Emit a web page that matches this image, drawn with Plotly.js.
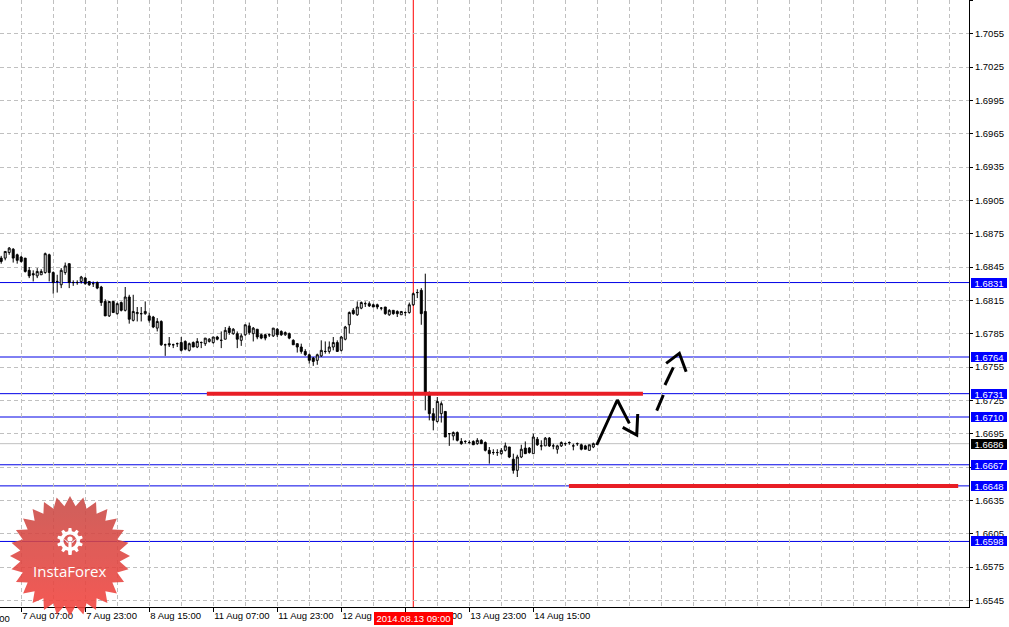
<!DOCTYPE html>
<html><head><meta charset="utf-8">
<script src="https://cdn.plot.ly/plotly-3.0.1.min.js"></script>
<style>html,body{margin:0;padding:0;background:#fff;overflow:hidden}#chart{width:1009px;height:627px}</style>
</head><body><div id="chart"></div>
<script>
// ---- data (GBPUSD H1, bar index 0 = 7 Aug 07:00) ----
const firstBar = -5;
const opens = [1.6853,1.6853,1.6858,1.6861,1.6856,1.6854,1.6853,1.6842,1.6839,1.6837,1.6838,1.6840,1.6856,1.6840,1.6832,1.6829,1.6840,1.6848,1.6831,1.6831,
1.6832,1.6835,1.6832,1.6830,1.6831,1.6827,1.6814,1.6801,1.6814,1.6803,1.6813,1.6806,1.6818,1.6797,1.6803,1.6803,1.6803,1.6801,1.6800,1.6790,
1.6796,1.6775,1.6776,1.6775,1.6776,1.6777,1.6778,1.6770,1.6777,1.6773,1.6777,1.6776,1.6778,1.6777,1.6782,1.6779,1.6780,1.6790,1.6785,1.6785,
1.6779,1.6784,1.6792,1.6785,1.6789,1.6784,1.6784,1.6784,1.6783,1.6789,1.6787,1.6784,1.6785,1.6779,1.6776,1.6773,1.6769,1.6766,1.6763,1.6761,
1.6765,1.6769,1.6769,1.6773,1.6777,1.6770,1.6780,1.6793,1.6806,1.6802,1.6808,1.6812,1.6812,1.6811,1.6811,1.6808,1.6809,1.6802,1.6806,1.6805,
1.6802,1.6804,1.6804,1.6811,1.6822,1.6824,1.6805,1.6732,1.6713,1.6706,1.6713,1.6715,1.6695,1.6693,1.6696,1.6688,1.6688,1.6687,1.6688,1.6686,
1.6689,1.6687,1.6680,1.6678,1.6678,1.6677,1.6680,1.6683,1.6672,1.6662,1.6674,1.6682,1.6682,1.6677,1.6690,1.6684,1.6684,1.6691,1.6684,1.6681,
1.6684,1.6686,1.6687,1.6684,1.6686,1.6685,1.6684,1.6680,1.6683];
const highs = [1.6855,1.6859,1.6863,1.6862,1.6857,1.6855,1.6853,1.6845,1.6842,1.6844,1.6843,1.6858,1.6857,1.6841,1.6838,1.6844,1.6849,1.6848,1.6833,1.6833,
1.6837,1.6836,1.6832,1.6832,1.6832,1.6828,1.6816,1.6814,1.6814,1.6813,1.6814,1.6827,1.6820,1.6820,1.6809,1.6809,1.6814,1.6804,1.6801,1.6799,
1.6797,1.6776,1.6782,1.6776,1.6777,1.6782,1.6779,1.6777,1.6778,1.6781,1.6778,1.6781,1.6781,1.6782,1.6783,1.6787,1.6791,1.6792,1.6790,1.6787,
1.6785,1.6793,1.6795,1.6791,1.6789,1.6785,1.6785,1.6785,1.6790,1.6790,1.6788,1.6787,1.6786,1.6780,1.6776,1.6776,1.6771,1.6767,1.6764,1.6767,
1.6779,1.6778,1.6778,1.6782,1.6779,1.6783,1.6792,1.6805,1.6808,1.6814,1.6814,1.6814,1.6814,1.6812,1.6812,1.6809,1.6809,1.6807,1.6806,1.6806,
1.6805,1.6805,1.6813,1.6822,1.6825,1.6826,1.6839,1.6733,1.6718,1.6728,1.6724,1.6715,1.6695,1.6697,1.6697,1.6691,1.6689,1.6689,1.6689,1.6691,
1.6690,1.6688,1.6683,1.6681,1.6681,1.6682,1.6687,1.6683,1.6677,1.6676,1.6685,1.6688,1.6683,1.6695,1.6692,1.6689,1.6692,1.6692,1.6686,1.6685,
1.6688,1.6687,1.6688,1.6686,1.6687,1.6686,1.6685,1.6685,1.6687];
const lows = [1.6848,1.6851,1.6856,1.6849,1.6848,1.6849,1.6840,1.6835,1.6832,1.6835,1.6838,1.6839,1.6832,1.6821,1.6822,1.6826,1.6838,1.6826,1.6828,1.6829,
1.6830,1.6829,1.6828,1.6827,1.6825,1.6810,1.6801,1.6800,1.6804,1.6802,1.6805,1.6805,1.6794,1.6796,1.6796,1.6796,1.6802,1.6795,1.6790,1.6787,
1.6774,1.6765,1.6773,1.6772,1.6773,1.6769,1.6770,1.6769,1.6773,1.6772,1.6772,1.6774,1.6777,1.6776,1.6779,1.6772,1.6780,1.6784,1.6784,1.6772,
1.6774,1.6783,1.6784,1.6778,1.6780,1.6780,1.6779,1.6782,1.6782,1.6782,1.6783,1.6783,1.6780,1.6775,1.6768,1.6767,1.6765,1.6758,1.6756,1.6757,
1.6764,1.6767,1.6767,1.6770,1.6769,1.6769,1.6779,1.6785,1.6802,1.6801,1.6807,1.6809,1.6809,1.6809,1.6807,1.6806,1.6802,1.6801,1.6802,1.6800,
1.6802,1.6801,1.6803,1.6810,1.6817,1.6793,1.6716,1.6707,1.6698,1.6705,1.6705,1.6692,1.6684,1.6689,1.6688,1.6685,1.6686,1.6686,1.6685,1.6685,
1.6686,1.6679,1.6668,1.6676,1.6675,1.6676,1.6679,1.6673,1.6659,1.6656,1.6673,1.6677,1.6677,1.6677,1.6684,1.6680,1.6684,1.6683,1.6681,1.6677,
1.6683,1.6684,1.6685,1.6680,1.6684,1.6680,1.6681,1.6680,1.6682];
const closes = [1.6850,1.6859,1.6862,1.6853,1.6851,1.6850,1.6841,1.6837,1.6838,1.6841,1.6841,1.6857,1.6840,1.6831,1.6832,1.6842,1.6846,1.6831,1.6831,1.6831,
1.6836,1.6830,1.6829,1.6830,1.6826,1.6813,1.6801,1.6814,1.6804,1.6812,1.6806,1.6818,1.6798,1.6805,1.6804,1.6803,1.6805,1.6797,1.6791,1.6796,
1.6775,1.6775,1.6775,1.6775,1.6776,1.6770,1.6771,1.6776,1.6773,1.6778,1.6777,1.6781,1.6780,1.6782,1.6780,1.6779,1.6788,1.6786,1.6789,1.6780,
1.6783,1.6793,1.6786,1.6790,1.6782,1.6781,1.6781,1.6784,1.6790,1.6784,1.6784,1.6786,1.6781,1.6775,1.6773,1.6769,1.6766,1.6761,1.6760,1.6766,
1.6770,1.6769,1.6773,1.6777,1.6769,1.6782,1.6791,1.6804,1.6803,1.6809,1.6813,1.6812,1.6810,1.6809,1.6809,1.6808,1.6803,1.6806,1.6803,1.6803,
1.6805,1.6804,1.6811,1.6821,1.6822,1.6803,1.6731,1.6713,1.6707,1.6724,1.6722,1.6692,1.6695,1.6696,1.6689,1.6686,1.6688,1.6687,1.6685,1.6689,
1.6686,1.6680,1.6677,1.6678,1.6678,1.6680,1.6684,1.6674,1.6662,1.6674,1.6681,1.6677,1.6678,1.6692,1.6685,1.6684,1.6691,1.6684,1.6684,1.6684,
1.6687,1.6686,1.6687,1.6684,1.6686,1.6681,1.6681,1.6685,1.6686];

const tickBars = [0,16,32,48,64,80,96,112,128];
const tickLabels = ['7 Aug 07:00','7 Aug 23:00','8 Aug 15:00','11 Aug 07:00','11 Aug 23:00','12 Aug 15:00','13 Aug 07:00','13 Aug 23:00','14 Aug 15:00'];
const prevTickBar = -16, prevTickLabel = '6 Aug 15:00';
const levelPrices = [1.6831,1.6764,1.6731,1.6710,1.6667,1.6648,1.6598];
const bidPrice = 1.6686;
const markerBar = 98, markerLabel = '2014.08.13 09:00';
const redBars = [46.4,155.4,null,136.9,234.2];
const redPrices = [1.6731,1.6731,null,1.6648,1.6648];
const arrowBars = [143.85,149.0,152.0,null,150.35,153.85,154.1];
const arrowPrices = [1.66848,1.67253,1.67043,null,1.67007,1.66938,1.67127];
const dashBars = [158.85,160.5,null,160.9,163.0,null,161.2,164.5,166.2];
const dashPrices = [1.67157,1.67298,null,1.67388,1.67547,null,1.67583,1.67673,1.67508];

const xRange = [-5.3, 236.9];
const yRange = [1.6539, 1.70853];

// ---- build ----
const FONT = 'Liberation Sans, Arial, sans-serif';
const xs = opens.map((_, i) => firstBar + i);
const gridCol = '#c0c0c0';
const xPaper = n => (n - xRange[0]) / (xRange[1] - xRange[0]);

const traces = [
  {type:'candlestick', x:xs, open:opens, high:highs, low:lows, close:closes,
   increasing:{line:{color:'#000',width:1}, fillcolor:'#fff'},
   decreasing:{line:{color:'#000',width:1}, fillcolor:'#000'},
   whiskerwidth:0, hoverinfo:'none', showlegend:false},
  {type:'scatter', mode:'lines', x:redBars, y:redPrices, line:{color:'#e81e25', width:4}, hoverinfo:'none', showlegend:false},
  {type:'scatter', mode:'lines', x:arrowBars, y:arrowPrices, line:{color:'#000', width:3}, hoverinfo:'none', showlegend:false},
  {type:'scatter', mode:'lines', x:dashBars, y:dashPrices, line:{color:'#000', width:3}, hoverinfo:'none', showlegend:false}
];

const shapes = levelPrices.map(p => ({type:'line', xref:'paper', x0:0, x1:1, yref:'y', y0:p, y1:p,
  line:{color:'#0000e6', width:1}, layer:'between'}));
shapes.push({type:'line', xref:'paper', x0:0, x1:1, yref:'y', y0:bidPrice, y1:bidPrice, line:{color:'#c0c0c0', width:1}, layer:'between'});
shapes.push({type:'line', xref:'x', x0:markerBar, x1:markerBar, yref:'paper', y0:0, y1:1, line:{color:'#ff0000', width:1}, layer:'between'});

const annotations = levelPrices.map(p => ({xref:'paper', x:1, xanchor:'left', xshift:2, yref:'y', y:p,
  text:p.toFixed(4), showarrow:false, bgcolor:'#0000ff', font:{family:FONT, size:9.5, color:'#fff'},
  width:36, height:10, borderpad:0, borderwidth:0}));
annotations.push({xref:'paper', x:1, xanchor:'left', xshift:2, yref:'y', y:bidPrice,
  text:bidPrice.toFixed(4), showarrow:false, bgcolor:'#000', font:{family:FONT, size:9.5, color:'#fff'},
  width:36, height:10, borderpad:0, borderwidth:0});
annotations.push({xref:'x', x:markerBar, xanchor:'center', yref:'paper', y:0, yanchor:'top', yshift:-5,
  text:markerLabel, showarrow:false, bgcolor:'#ff0000', font:{family:FONT, size:9.5, color:'#fff'},
  width:79, height:13, borderpad:0, borderwidth:0});
annotations.push({xref:'paper', x:xPaper(prevTickBar), xanchor:'left', yref:'paper', y:0, yanchor:'top', yshift:-4,
  text:prevTickLabel, showarrow:false, font:{family:FONT, size:9.5, color:'#000'}});
annotations.push({xref:'paper', x:70/969, xanchor:'center', yref:'paper', y:(607-571)/607, yanchor:'middle',
  text:'InstaForex', showarrow:false,
  font:{family:'Open Sans, Liberation Sans, sans-serif', size:15, color:'#fff'}});

// logo starburst (decorative watermark)
function star(cx, cy, R, r, n){
  const pts=[];
  for(let i=0;i<2*n;i++){const a=Math.PI*i/n-Math.PI/2, rad=i%2?r:R; pts.push((cx+rad*Math.cos(a)).toFixed(2)+','+(cy+rad*Math.sin(a)).toFixed(2));}
  return pts.join(' ');
}
function gear(cx, cy, Ro, Ri, n){
  const s=2*Math.PI/n; let d='';
  for(let i=0;i<n;i++){
    const a=i*s-Math.PI/2;
    const p=[[Ri,a-0.3*s],[Ro,a-0.17*s],[Ro,a+0.17*s],[Ri,a+0.3*s]];
    p.forEach((q,j)=>{d+=(i===0&&j===0?'M':'L')+(cx+q[0]*Math.cos(q[1])).toFixed(2)+','+(cy+q[0]*Math.sin(q[1])).toFixed(2);});
  }
  d+='Z M'+(cx-6.5)+','+cy+' a6.5,6.5 0 1,0 13,0 a6.5,6.5 0 1,0 -13,0 Z';
  return d;
}
const svg = "<svg xmlns='http://www.w3.org/2000/svg' width='120' height='120' viewBox='0 0 120 120'>"+
 "<defs><linearGradient id='g' x1='0' y1='0' x2='0' y2='1'><stop offset='0' stop-color='#c84a46'/><stop offset='1' stop-color='#f5423c'/></linearGradient></defs>"+
 "<polygon points='"+star(60,60,60,50,28)+"' fill='url(#g)'/>"+
 "<path d='"+gear(60,45,13,10,10)+"' fill='#fff' fill-rule='evenodd'/>"+
 "<circle cx='60' cy='43' r='2.6' fill='#fff'/>"+
 "<rect x='58.4' y='46' width='3.2' height='13' fill='#fff'/>"+
 "<path d='M53,42 L57.5,47 L58.4,46 Z M67,42 L62.5,47 L61.6,46 Z' fill='#fff'/>"+
 "</svg>";
const logo = 'data:image/svg+xml;charset=utf-8,'+encodeURIComponent(svg);

const layout = {
  width:1009, height:627,
  margin:{l:0, r:40, t:0, b:20, pad:0},
  paper_bgcolor:'#fff', plot_bgcolor:'#fff',
  showlegend:false, hovermode:false, dragmode:false,
  xaxis:{range:xRange, type:'linear', fixedrange:true, rangeslider:{visible:false},
    showline:true, linecolor:'#000', linewidth:1, zeroline:false,
    tickmode:'array', tickvals:tickBars, ticktext:tickLabels, ticks:'outside', ticklen:4, tickcolor:'#000',
    tickangle:0, ticklabelposition:'outside right', tickfont:{family:FONT, size:9.5, color:'#000'},
    showgrid:true, gridcolor:gridCol, griddash:'4px,3px', gridwidth:1,
    minor:{tickmode:'linear', tick0:0, dtick:8, showgrid:true, gridcolor:gridCol, griddash:'4px,3px', gridwidth:1, ticks:''}},
  yaxis:{range:yRange, side:'right', fixedrange:true, tickmode:'linear', tick0:1.6545, dtick:0.003, tickformat:'.4f',
    showline:true, linecolor:'#000', linewidth:1, zeroline:false, ticks:'outside', ticklen:3, tickcolor:'#000',
    tickfont:{family:FONT, size:9.5, color:'#000'},
    showgrid:true, gridcolor:gridCol, griddash:'4px,3px', gridwidth:1},
  shapes:shapes, annotations:annotations,
  images:[{source:logo, xref:'paper', yref:'paper', x:10/969, y:(607-496)/607, sizex:120/969, sizey:120/607,
    sizing:'stretch', xanchor:'left', yanchor:'top', layer:'above', opacity:0.88}]
};
Plotly.newPlot('chart', traces, layout, {staticPlot:true, displayModeBar:false});
</script></body></html>
